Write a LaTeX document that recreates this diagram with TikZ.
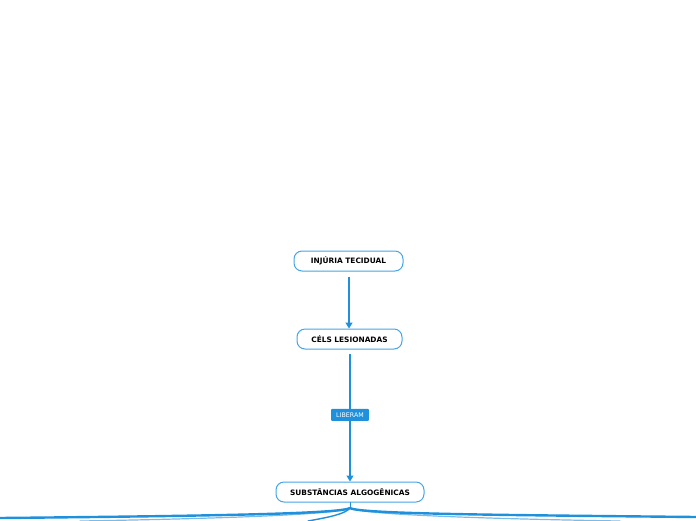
\documentclass[tikz,border=0pt]{standalone}
\usepackage{fontspec}
\setmainfont{DejaVu Sans}
\usetikzlibrary{arrows.meta}
\definecolor{lineblue}{RGB}{30,144,220}
\definecolor{boxblue}{RGB}{70,165,230}
\tikzset{
  mainbox/.style={draw=boxblue, line width=1pt, rounded corners=8pt, fill=white,
    minimum height=20pt, inner sep=0pt, font=\fontsize{7.4}{8}\selectfont\bfseries, text=black},
  labelbox/.style={fill=lineblue, text=white, inner sep=0pt, minimum width=38pt, minimum height=12pt,
    rounded corners=1pt, font=\fontsize{6.3}{7}\selectfont},
  conn/.style={draw=lineblue, line width=1.2pt, -{Triangle[length=6pt,width=7pt]}},
  branch/.style={draw=lineblue, line cap=round},
}
\begin{document}
\begin{tikzpicture}[x=1pt,y=-1pt]
\useasboundingbox (0,0) rectangle (696,520);
\node[mainbox, minimum width=109pt] (inj) at (348.5,261) {INJÚRIA TECIDUAL};
\node[mainbox, minimum width=105pt] (cel) at (349.5,339) {CÉLS LESIONADAS};
\node[mainbox, minimum width=148pt] (sub) at (350,492) {SUBSTÂNCIAS ALGOGÊNICAS};
\draw[conn, shorten <=5pt] (inj.south -| 349,0) -- (cel.north -| 349,0);
\draw[conn, shorten <=4pt] (cel.south -| 350,0) -- node[labelbox, pos=0.496] (lib) {LIBERAM} (sub.north -| 350,0);
% branches from the bottom node
\coordinate (hub) at (350,508);
\coordinate (l1) at (0,518);
\coordinate (l2) at (80,521);
\coordinate (l3) at (308,521);
\coordinate (r1) at (696,517);
\coordinate (r2) at (620,521);
\draw[branch, line width=1pt] (sub.south) -- (hub);
\draw[branch, line width=2.4pt] (hub) .. controls (340,514) and (200,516) .. (l1);
\draw[branch, line width=1.2pt, draw opacity=0.6] (hub) .. controls (340,515) and (200,519) .. (l2);
\draw[branch, line width=1.4pt] (hub) .. controls (345,514) and (330,517) .. (l3);
\draw[branch, line width=2.4pt] (hub) .. controls (360,514) and (500,515) .. (r1);
\draw[branch, line width=1.2pt, draw opacity=0.6] (hub) .. controls (360,515) and (500,519) .. (r2);
\end{tikzpicture}
\end{document}
